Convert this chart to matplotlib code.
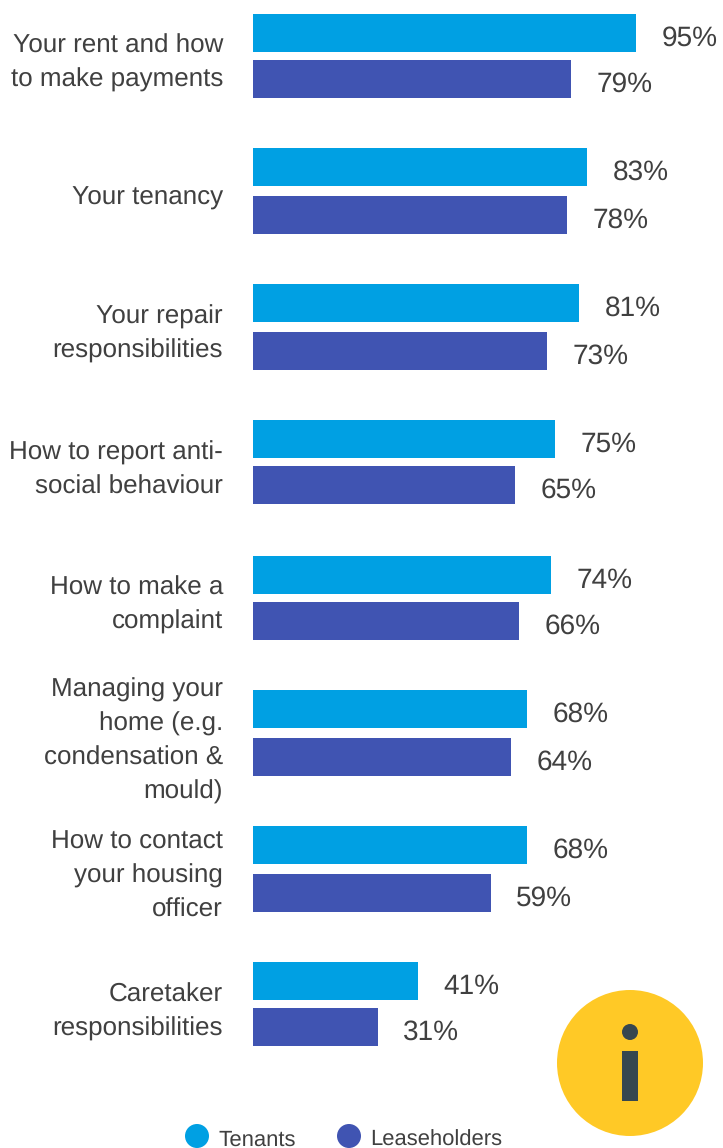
import matplotlib
matplotlib.use('Agg')
import matplotlib.pyplot as plt
from matplotlib.patches import Circle, Rectangle

plt.rcParams['font.family'] = ['Liberation Sans', 'DejaVu Sans']
plt.rcParams['text.hinting'] = 'none'
plt.rcParams['text.hinting_factor'] = 1

# data
categories = [
    'Your rent and how\nto make payments',
    'Your tenancy',
    'Your repair\nresponsibilities',
    'How to report anti-\nsocial behaviour',
    'How to make a\ncomplaint',
    'Managing your\nhome (e.g.\ncondensation &\nmould)',
    'How to contact\nyour housing\nofficer',
    'Caretaker\nresponsibilities',
]
tenants = [95, 83, 81, 75, 74, 68, 68, 41]
leaseholders = [79, 78, 73, 65, 66, 64, 59, 31]

# layout, in pixels from the top left
W, H = 723, 1148
BAR_LEFT = 253
PX_PER_PCT = 4.03
BAR_H = 38
tenant_tops = [14, 148, 284, 420, 556, 690, 826, 962]
leaseholder_tops = [60, 196, 332, 466, 602, 738, 874, 1008]
label_centres = [60, 195, 331, 467, 602, 738, 873, 1009]

BLUE = '#00a0e3'
INDIGO = '#4054b2'
YELLOW = '#ffc926'
SLATE = '#37474f'
TEXT = '#404040'

fig = plt.figure(figsize=(W / 100, H / 100), dpi=100, facecolor='white')

# bars: x axis is in percent, y axis in pixels
ax = fig.add_axes([BAR_LEFT / W, 0, (W - BAR_LEFT) / W, 1])
ax.set_xlim(0, (W - BAR_LEFT) / PX_PER_PCT)
ax.set_ylim(H, 0)
ax.axis('off')
ax.barh([t + BAR_H / 2 for t in tenant_tops], tenants, height=BAR_H, color=BLUE)
ax.barh([t + BAR_H / 2 for t in leaseholder_tops], leaseholders, height=BAR_H, color=INDIGO)

# overlay for text and icons, in plain pixels
ov = fig.add_axes([0, 0, 1, 1])
ov.set_xlim(0, W)
ov.set_ylim(H, 0)
ov.set_aspect('equal')
ov.axis('off')
ov.patch.set_alpha(0)

CAT_FS = 18.8
VAL_FS = 20.45
for cat, cy in zip(categories, label_centres):
    n = cat.count('\n') + 1
    for i, line in enumerate(cat.split('\n')):
        ov.text(223, cy + (i - (n - 1) / 2) * 34 + 9.6, line, ha='right', va='baseline',
                fontsize=CAT_FS, color=TEXT)

for vals, tops in ((tenants, tenant_tops), (leaseholders, leaseholder_tops)):
    for v, t in zip(vals, tops):
        ov.text(BAR_LEFT + v * PX_PER_PCT + 25.5, t + BAR_H / 2 + 13.2, f'{v}%', ha='left',
                va='baseline', fontsize=VAL_FS, color=TEXT)

# legend
ov.add_patch(Circle((197, 1136), 12, fc=BLUE, ec='none'))
ov.text(218.5, 1146, 'Tenants', ha='left', va='baseline', fontsize=16.2, color=TEXT)
ov.add_patch(Circle((349, 1136), 12, fc=INDIGO, ec='none'))
ov.text(370.5, 1146, 'Leaseholders', ha='left', va='baseline', fontsize=16.2, color=TEXT)

# info badge
ov.add_patch(Circle((630, 1063), 73, fc=YELLOW, ec='none'))
ov.add_patch(Circle((630, 1032), 8, fc=SLATE, ec='none'))
ov.add_patch(Rectangle((622, 1051), 16, 50, fc=SLATE, ec='none'))

fig.savefig('out.png', dpi=100, facecolor='white')
